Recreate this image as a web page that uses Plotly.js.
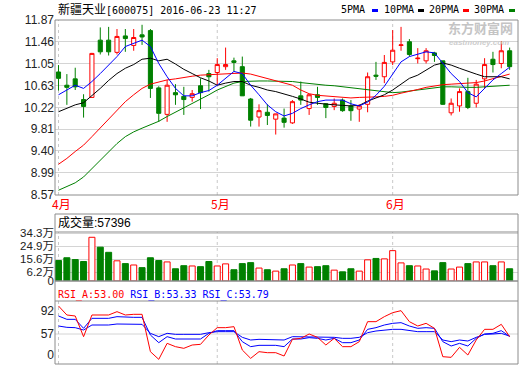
<!DOCTYPE html>
<html><head><meta charset="utf-8">
<script src="https://cdn.plot.ly/plotly-3.0.1.min.js"></script>
<style>html,body{margin:0;padding:0;background:#fff;} #chart{width:520px;height:365px;}</style>
</head><body><div id="chart"></div>
<script>
const dates = ['2016-04-05','2016-04-06','2016-04-07','2016-04-08','2016-04-11','2016-04-12','2016-04-13','2016-04-14','2016-04-15','2016-04-18',
 '2016-04-19','2016-04-20','2016-04-21','2016-04-22','2016-04-25','2016-04-26','2016-04-27','2016-04-28','2016-04-29','2016-05-03',
 '2016-05-04','2016-05-05','2016-05-06','2016-05-09','2016-05-10','2016-05-11','2016-05-12','2016-05-13','2016-05-16','2016-05-17',
 '2016-05-18','2016-05-19','2016-05-20','2016-05-23','2016-05-24','2016-05-25','2016-05-26','2016-05-27','2016-05-30','2016-05-31',
 '2016-06-01','2016-06-02','2016-06-03','2016-06-06','2016-06-07','2016-06-08','2016-06-13','2016-06-14','2016-06-15','2016-06-16',
 '2016-06-17','2016-06-20','2016-06-21','2016-06-22','2016-06-23'];
const openP = [10.89,10.64,10.76,10.37,10.41,11.49,11.49,11.26,11.57,11.39,
 11.59,11.67,10.59,10.09,10.50,10.43,10.41,10.63,10.86,10.88,
 10.99,11.10,10.99,10.38,10.04,10.13,10.00,10.02,9.93,10.44,
 10.20,10.46,10.29,10.24,10.36,10.25,10.19,10.28,10.83,10.80,
 11.08,11.39,11.46,11.14,11.10,11.25,11.10,10.12,10.25,10.52,
 10.30,10.76,11.13,11.05,11.29];
const highP = [11.02,10.85,10.97,10.47,11.25,11.73,11.74,11.70,11.70,11.70,
 11.78,11.70,10.62,10.74,10.66,10.61,10.55,10.77,10.93,11.15,
 11.35,11.16,11.18,10.40,10.28,10.28,10.10,10.20,10.36,10.71,
 10.47,10.61,10.30,10.39,10.39,10.36,10.28,10.88,11.08,11.21,
 11.68,11.74,11.51,11.34,11.34,11.27,11.10,10.39,10.58,10.78,
 10.74,11.15,11.27,11.47,11.35];
const lowP = [10.54,10.27,10.55,10.03,10.40,11.22,11.20,11.22,11.27,11.29,
 11.40,10.40,9.95,9.95,10.27,10.08,10.33,10.19,10.52,10.64,
 10.93,10.90,10.44,9.86,9.86,9.89,9.71,9.84,9.91,10.27,
 10.08,10.27,10.02,10.17,10.14,9.97,9.95,10.13,10.74,10.68,
 11.02,11.29,11.18,11.05,11.05,11.08,10.27,10.07,10.14,10.19,
 10.22,10.58,10.88,10.96,10.93];
const closeP = [10.77,10.60,10.61,10.24,11.24,11.27,11.27,11.56,11.52,11.54,
 11.55,10.58,10.11,10.64,10.46,10.37,10.48,10.50,10.80,11.03,
 11.03,11.07,10.44,9.98,10.16,10.07,10.10,9.94,10.33,10.36,
 10.46,10.41,10.22,10.30,10.16,10.16,10.25,10.80,10.81,11.07,
 11.30,11.40,11.22,11.15,11.29,11.20,10.28,10.30,10.52,10.22,
 10.66,11.03,11.03,11.29,10.99];
const ma5 = [10.46,10.55,10.64,10.58,10.71,10.86,11.02,11.18,11.37,11.43,
 11.49,11.37,11.05,10.80,10.58,10.44,10.44,10.50,10.54,10.64,
 10.77,10.90,10.86,10.64,10.46,10.27,10.14,10.06,10.11,10.20,
 10.27,10.33,10.36,10.36,10.36,10.29,10.25,10.32,10.45,10.62,
 10.85,11.08,11.18,11.22,11.27,11.25,11.05,10.86,10.71,10.50,
 10.42,10.58,10.74,10.86,10.98];
const ma10 = [10.14,10.20,10.27,10.31,10.44,10.58,10.73,10.86,10.96,11.03,
 11.13,11.15,11.10,11.13,11.04,10.94,10.86,10.78,10.72,10.64,
 10.68,10.71,10.71,10.64,10.60,10.55,10.52,10.48,10.43,10.38,
 10.32,10.30,10.28,10.27,10.26,10.25,10.26,10.34,10.40,10.46,
 10.55,10.66,10.77,10.83,10.93,11.02,11.06,11.02,10.96,10.90,
 10.85,10.80,10.80,10.80,10.76];
const ma20 = [9.15,9.26,9.39,9.51,9.67,9.83,10.00,10.17,10.33,10.46,
 10.58,10.66,10.70,10.74,10.76,10.79,10.81,10.83,10.84,10.85,
 10.86,10.87,10.87,10.85,10.81,10.76,10.72,10.68,10.64,10.55,
 10.48,10.45,10.44,10.42,10.41,10.40,10.41,10.41,10.42,10.43,
 10.45,10.49,10.52,10.56,10.60,10.63,10.65,10.66,10.67,10.68,
 10.69,10.72,10.76,10.80,10.85];
const ma30 = [8.66,8.73,8.80,8.91,9.07,9.23,9.39,9.54,9.67,9.76,
 9.83,9.89,9.96,10.05,10.13,10.21,10.29,10.37,10.46,10.55,
 10.62,10.68,10.71,10.72,10.72,10.72,10.72,10.72,10.71,10.69,
 10.67,10.65,10.64,10.63,10.61,10.59,10.58,10.55,10.53,10.51,
 10.50,10.51,10.53,10.55,10.58,10.60,10.61,10.61,10.60,10.60,
 10.60,10.61,10.62,10.63,10.64];
const volume = [147000,167000,154000,140000,314000,243000,206000,145000,125000,115000,
 96000,167000,147000,137000,88000,110000,108000,103000,140000,108000,
 123000,81000,125000,132000,93000,81000,71000,88000,115000,125000,
 100000,103000,110000,78000,66000,88000,71000,152000,162000,159000,
 218000,130000,110000,108000,86000,73000,132000,86000,100000,125000,
 137000,137000,110000,137000,88000];
const rsiA = [99,85.5,84,53,85.5,85.5,85.5,90.5,85.5,86.5,
 86.5,30.5,19,43,38,35.5,40.5,41.5,55.5,66.5,
 66.5,68,33,20.5,30.5,29,29,24,49,50.5,
 57,52,40.5,50.5,38,38,45.5,75.5,75.5,83,
 89,92,75.5,69,73,65.5,23,22,37,25.5,
 48,64,64,71.5,53];
const rsiB = [84,79,79,65.5,80.5,80.5,80.5,83,82,82,
 82,55.5,44,53,49.5,49.5,49.5,49.5,58,62,
 62,62,45.5,38,40,40,40,38,49.5,49.5,
 51.5,50.5,48,50.5,44,44,48,64,66.5,70.5,
 73,74,69,65.5,66.5,65.5,45.5,39,43,39,
 50.5,57,58,62,53.33];
const rsiC = [69,67,66.5,63,70.5,70.5,70.5,72,71.5,71.5,
 71.5,58,53,58,56.5,56.5,56.5,56.5,59,60.5,
 60.5,60.5,52,48,49,49,49,48,53,53,
 53,53,52,52,50.5,50.5,52,59,61.5,63,
 64,64,62,60.5,60.5,60.5,48,45.5,48,46.5,
 52,56.5,57,58,53.79];
const priceTicks = [8.57,8.99,9.40,9.81,10.22,10.63,11.05,11.46,11.87];
const volTicks = [0,62000,156000,249000,343000];
const volTickText = ['0','6.2万','15.6万','24.9万','34.3万'];
const rsiTickText = ['0','57','92'];
const monthStarts = ['2016-04-05','2016-05-03','2016-06-01'];
const monthLabels = ['4月','5月','6月'];
const title = '新疆天业[600075] 2016-06-23 11:27';
const volHeader = '成交量:57396';
const maNames = ['5PMA','10PMA','20PMA','30PMA'];

const W=520,H=365,ML=55,MR=2,MT=20,MB=1;
const PW=W-ML-MR, PH=H-MT-MB;
const py = y => (H-MB-y)/PH;
const px = x => (x-ML)/PW;
const RED='#ff0000', GREEN='#008000', BLUE='#0000ff', BLACK='#000000';
const up = closeP.map((c,i)=>c>=openP[i]);

const traces = [
 {type:'candlestick', x:dates, open:openP, high:highP, low:lowP, close:closeP, xaxis:'x', yaxis:'y',
  increasing:{line:{color:RED,width:1}, fillcolor:'#ffffff'},
  decreasing:{line:{color:GREEN,width:1}, fillcolor:GREEN}, whiskerwidth:0, hoverinfo:'skip'},
 {type:'scatter', mode:'lines', x:dates, y:ma30, line:{color:GREEN,width:1}, yaxis:'y'},
 {type:'scatter', mode:'lines', x:dates, y:ma20, line:{color:RED,width:1}, yaxis:'y'},
 {type:'scatter', mode:'lines', x:dates, y:ma10, line:{color:BLACK,width:1}, yaxis:'y'},
 {type:'scatter', mode:'lines', x:dates, y:ma5, line:{color:BLUE,width:1}, yaxis:'y'},
 {type:'bar', x:dates, y:volume, yaxis:'y2', width:0.72,
  marker:{color:up.map(u=>u?'#ffffff':GREEN), line:{color:up.map(u=>u?RED:GREEN), width:1}}},
 {type:'scatter', mode:'lines', x:dates, y:rsiC, line:{color:BLUE,width:1}, yaxis:'y3'},
 {type:'scatter', mode:'lines', x:dates, y:rsiB, line:{color:BLUE,width:1}, yaxis:'y3'},
 {type:'scatter', mode:'lines', x:dates, y:rsiA, line:{color:RED,width:1}, yaxis:'y3'}
];

const tickFont = {family:'Liberation Sans, Arial, Noto Sans CJK SC', size:12, color:'#222'};
const volTickFont = {family:'Liberation Sans, Arial, Noto Sans CJK SC', size:11.5, color:'#222'};
const BORDER = '#8c8c8c';
const shapes = [];
const panels = [[py(195),1],[py(281),py(214)],[0,py(281)]];
panels.forEach(p=>shapes.push({type:'rect',xref:'paper',yref:'paper',x0:0,x1:1,y0:p[0],y1:p[1],line:{color:BORDER,width:1},fillcolor:'rgba(0,0,0,0)',layer:'above'}));
shapes.push({type:'line',xref:'paper',yref:'paper',x0:0,x1:1,y0:py(232),y1:py(232),line:{color:BORDER,width:1}});
shapes.push({type:'line',xref:'paper',yref:'paper',x0:0,x1:1,y0:py(301),y1:py(301),line:{color:BORDER,width:1}});
shapes.push({type:'line',xref:'paper',yref:'y3',x0:0,x1:1,y0:57,y1:57,line:{color:'#d4d4d4',width:1},layer:'below'});
const dashRanges = [[py(195),1],[py(281),py(232)],[0,py(301)]];
monthStarts.forEach(m=>dashRanges.forEach(r=>shapes.push({type:'line',xref:'x',yref:'paper',x0:m,x1:m,y0:r[0],y1:r[1],line:{color:'#c8c8c8',width:1,dash:'3px,3px'},layer:'below'})));
const legendCols = [BLUE,BLACK,RED,GREEN];
const legendText = [340,383,428,473];
const legendDash = [372,418,463,509];
legendDash.forEach((x,i)=>shapes.push({type:'rect',xref:'paper',yref:'paper',x0:px(x),x1:px(x+6),y0:py(12),y1:py(9),fillcolor:legendCols[i],line:{width:0}}));

const annotations = [];
annotations.push({xref:'paper',yref:'paper',x:px(56),y:py(9),xanchor:'left',yanchor:'middle',showarrow:false,
 text:'<span style="font-family:\'Noto Sans CJK SC\';font-size:12px">'+title.slice(0,4)+'</span>'+title.slice(4),
 font:{family:'DejaVu Sans Mono, Noto Sans CJK SC',size:10,color:'#000'}});
maNames.forEach((n,i)=>annotations.push({xref:'paper',yref:'paper',x:px(legendText[i]-1),y:py(10),xanchor:'left',yanchor:'middle',showarrow:false,
 text:n,font:{family:'DejaVu Sans Mono',size:10,color:'#000'}}));
annotations.push({xref:'paper',yref:'paper',x:px(446),y:py(27),xanchor:'left',yanchor:'middle',showarrow:false,
 text:'东方财富网',font:{family:'Noto Sans CJK SC',size:13,color:'#c4c4c4',weight:'bold'}});
annotations.push({xref:'paper',yref:'paper',x:px(447),y:py(42),xanchor:'left',yanchor:'middle',showarrow:false,
 text:'<i>eastmoney.com</i>',font:{family:'Liberation Sans',size:8,color:'#cdcdcd',weight:'bold'}});
monthStarts.forEach((m,i)=>annotations.push({xref:'x',yref:'paper',x:m,y:py(203),xanchor:'center',yanchor:'middle',xshift:3,showarrow:false,
 text:monthLabels[i],font:{family:'Noto Sans CJK SC',size:12,color:RED}}));
annotations.push({xref:'paper',yref:'paper',x:px(56),y:py(223),xanchor:'left',yanchor:'middle',showarrow:false,
 text:volHeader,font:{family:'Liberation Sans, Noto Sans CJK SC',size:12,color:'#000'}});
annotations.push({xref:'paper',yref:'paper',x:px(56),y:py(295),xanchor:'left',yanchor:'middle',showarrow:false,
 text:'<span style="color:#ff0000">RSI_A:'+rsiA[rsiA.length-1].toFixed(2)+'</span> <span style="color:#0000ff">RSI_B:'+rsiB[rsiB.length-1].toFixed(2)+'</span> <span style="color:#0000ff">RSI_C:'+rsiC[rsiC.length-1].toFixed(2)+'</span>',
 font:{family:'DejaVu Sans Mono',size:10,color:'#000'}});

const rsiPxPerUnit = 0.667;
const rsiLo = 57-(364-334)/rsiPxPerUnit, rsiHi = 57+(334-301)/rsiPxPerUnit;
const rsiTicks = [57-(355-334)/rsiPxPerUnit,57,92];

const layout = {
 width:W,height:H,margin:{l:ML,r:MR,t:MT,b:MB},paper_bgcolor:'#fff',plot_bgcolor:'#fff',showlegend:false,hovermode:false,
 xaxis:{type:'category',range:[-0.42,55.0],showticklabels:false,showgrid:false,zeroline:false,showline:false,ticks:'',anchor:'y3',rangeslider:{visible:false}},
 yaxis:{domain:[py(195),1],range:[8.57,11.87],tickvals:priceTicks,ticktext:priceTicks.map(v=>v.toFixed(2)),showgrid:true,gridcolor:'#d4d4d4',zeroline:false,showline:false,ticks:'',tickfont:tickFont},
 yaxis2:{domain:[py(281),py(232)],range:[0,352000],tickvals:volTicks,ticktext:volTickText,showgrid:true,gridcolor:'#d4d4d4',zeroline:false,showline:false,ticks:'',tickfont:volTickFont},
 yaxis3:{domain:[0,py(301)],range:[rsiLo,rsiHi],tickvals:rsiTicks,ticktext:rsiTickText,showgrid:false,zeroline:false,showline:false,ticks:'',tickfont:tickFont},
 shapes:shapes,annotations:annotations
};
Plotly.newPlot('chart',traces,layout,{staticPlot:true,displayModeBar:false});
</script></body></html>
